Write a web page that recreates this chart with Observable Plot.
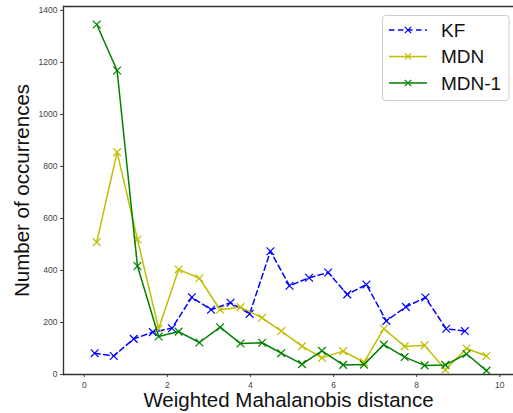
<!DOCTYPE html>
<html>
<head>
<meta charset="utf-8">
<script src="https://cdn.jsdelivr.net/npm/d3@7"></script>
<script src="https://cdn.jsdelivr.net/npm/@observablehq/plot@0.6"></script>
<style>
  body { margin: 0; background: #fff; }
  #wrap { position: relative; width: 513px; height: 413px; font-family: "Liberation Sans", Arial, sans-serif; }
  #legend { position: absolute; left: 0; top: 0; }
</style>
</head>
<body>
<div id="wrap"></div>
<script>
// ---- data ----
const seriesNames = ["KF", "MDN", "MDN-1"];
const seriesColors = ["#0000ff", "#bfbf00", "#008000"];

const kfX = [0.25, 0.71, 1.19, 1.65, 2.11, 2.59, 3.05, 3.52, 3.98, 4.48, 4.94, 5.41, 5.87, 6.33, 6.79, 7.27, 7.74, 8.21, 8.71, 9.16];
const kfY = [82, 71, 137, 163, 178, 297, 249, 276, 233, 474, 341, 372, 392, 308, 346, 206, 260, 296, 176, 167];

const mdnX = [0.30, 0.79, 1.28, 1.79, 2.27, 2.77, 3.27, 3.76, 4.28, 4.74, 5.24, 5.72, 6.23, 6.73, 7.21, 7.71, 8.19, 8.69, 9.20, 9.68];
const mdnY = [509, 855, 519, 176, 404, 370, 249, 259, 218, 167, 109, 64, 90, 47, 176, 108, 112, 18, 100, 71];

const mdn1X = [0.30, 0.79, 1.28, 1.79, 2.27, 2.77, 3.27, 3.76, 4.28, 4.74, 5.24, 5.72, 6.23, 6.73, 7.21, 7.71, 8.19, 8.69, 9.20, 9.68];
const mdn1Y = [1346, 1169, 417, 146, 165, 123, 182, 119, 122, 82, 40, 91, 37, 38, 115, 67, 35, 37, 79, 15];

const xTicks = [0, 2, 4, 6, 8, 10];
const yTicks = [0, 200, 400, 600, 800, 1000, 1200, 1400];
const xTitle = "Weighted Mahalanobis distance";
const yTitle = "Number of occurrences";

// ---- build table ----
const toRows = (name, xs, ys) => xs.map((x, i) => ({series: name, x, y: ys[i]}));
const kf = toRows("KF", kfX, kfY);
const mdn = toRows("MDN", mdnX, mdnY);
const mdn1 = toRows("MDN-1", mdn1X, mdn1Y);

const font = "Liberation Sans, Arial, sans-serif";
const tickColor = "#444";
const spine = "#333";

const plot = Plot.plot({
  width: 513,
  height: 413,
  marginLeft: 63,
  marginRight: 0,
  marginTop: 6,
  marginBottom: 39,
  style: {fontFamily: font, background: "#fff", overflow: "visible"},
  x: {domain: [-0.5, 10.33], ticks: xTicks},
  y: {domain: [0, 1415], ticks: yTicks},
  marks: [
    Plot.axisX({ticks: xTicks, tickSize: 3, tickPadding: 4, fontSize: 8.5, color: tickColor, label: null, tickFormat: d => String(d)}),
    Plot.axisY({ticks: yTicks, tickSize: 3, tickPadding: 3, fontSize: 8.5, color: tickColor, label: null, tickFormat: d => String(d)}),
    Plot.frame({anchor: "left", stroke: spine, strokeWidth: 1.3}),
    Plot.frame({anchor: "bottom", stroke: spine, strokeWidth: 1.3}),
    Plot.frame({anchor: "top", stroke: spine, strokeWidth: 1.3}),
    Plot.line(kf, {x: "x", y: "y", stroke: seriesColors[0], strokeWidth: 1.5, strokeDasharray: "5.5,3.5"}),
    Plot.dot(kf, {x: "x", y: "y", symbol: "times", r: 3.6, stroke: seriesColors[0], strokeWidth: 1.2}),
    Plot.line(mdn, {x: "x", y: "y", stroke: seriesColors[1], strokeWidth: 1.5}),
    Plot.dot(mdn, {x: "x", y: "y", symbol: "times", r: 3.6, stroke: seriesColors[1], strokeWidth: 1.2}),
    Plot.line(mdn1, {x: "x", y: "y", stroke: seriesColors[2], strokeWidth: 1.5}),
    Plot.dot(mdn1, {x: "x", y: "y", symbol: "times", r: 3.6, stroke: seriesColors[2], strokeWidth: 1.2}),
    Plot.text([xTitle], {frameAnchor: "bottom", dy: 26, fontSize: 20.5, fill: "#111", textAnchor: "middle", lineAnchor: "middle"}),
    Plot.text([yTitle], {frameAnchor: "left", dx: -41, rotate: -90, fontSize: 20.5, fill: "#111", textAnchor: "middle", lineAnchor: "middle"})
  ]
});

const wrap = document.getElementById("wrap");
wrap.appendChild(plot);

// ---- legend overlay ----
const lg = d3.select(wrap).append("svg")
  .attr("id", "legend")
  .attr("width", 513).attr("height", 413)
  .style("pointer-events", "none");
lg.append("rect")
  .attr("x", 382.5).attr("y", 15.5).attr("width", 126.5).attr("height", 85)
  .attr("rx", 3).attr("fill", "#fff").attr("fill-opacity", 0.9)
  .attr("stroke", "#ccc").attr("stroke-width", 1);
const dashes = ["5.5,3.5", null, null];
seriesNames.forEach((name, i) => {
  const cy = 30 + i * 26.5;
  const g = lg.append("g");
  g.append("line").attr("x1", 389).attr("x2", 427).attr("y1", cy).attr("y2", cy)
    .attr("stroke", seriesColors[i]).attr("stroke-width", 1.5)
    .attr("stroke-dasharray", dashes[i]);
  const s = 3.2;
  g.append("path").attr("d", `M${408 - s},${cy - s}L${408 + s},${cy + s}M${408 - s},${cy + s}L${408 + s},${cy - s}`)
    .attr("stroke", seriesColors[i]).attr("stroke-width", 1.2);
  g.append("text").attr("x", 441).attr("y", cy).attr("dy", "0.36em")
    .attr("font-family", font).attr("font-size", 19).attr("fill", "#111").text(name);
});
</script>
</body>
</html>
